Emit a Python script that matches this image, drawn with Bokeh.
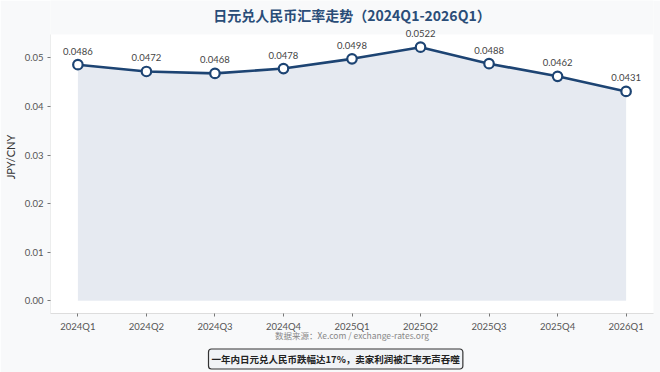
from bokeh.plotting import figure
from bokeh.models import ColumnDataSource, Label, Range1d, FixedTicker, LabelSet, Title
from bokeh.core.properties import value
from bokeh.embed import file_html
from bokeh.resources import INLINE

quarters = ["2024Q1", "2024Q2", "2024Q3", "2024Q4", "2025Q1", "2025Q2", "2025Q3", "2025Q4", "2026Q1"]
rates = [0.0486, 0.0472, 0.0468, 0.0478, 0.0498, 0.0522, 0.0488, 0.0462, 0.0431]
y_ticks = [0.00, 0.01, 0.02, 0.03, 0.04, 0.05]
title_text = "日元兑人民币汇率走势（2024Q1-2026Q1）"
source_text = "数据来源：Xe.com / exchange-rates.org"
caption_text = "一年内日元兑人民币跌幅达17%，卖家利润被汇率无声吞噬"

FONT = "Lato"
CJK = "Noto Sans CJK SC"
NAVY = "#1d4473"
OUTER = "#f8f9fa"

xs = list(range(len(quarters)))
src = ColumnDataSource(dict(x=xs, y=rates, lab=[f"{v:.4f}" for v in rates]))

n = len(quarters) - 1
ymax = max(rates)
x0, x1 = -0.05 * n, n * 1.05
y0, y1 = -0.05 * ymax, ymax * 1.05
# frame extends above the white plot area so that labels are not clipped
FRAME_H = 313
PLOT_H = 313 - 34
y_top = y0 + (y1 - y0) * FRAME_H / PLOT_H

p = figure(width=660, height=372, output_backend="svg", toolbar_location=None,
           x_range=Range1d(x0, x1), y_range=Range1d(y0, y_top),
           min_border_left=47, min_border_right=7, min_border_top=0, min_border_bottom=59)
p.background_fill_color = OUTER
p.border_fill_color = OUTER
p.outline_line_color = None
p.grid.visible = False

# white plotting area
p.quad(left=[x0], right=[x1], bottom=[y0], top=[y1], fill_color="white", line_color=None)
p.segment(x0=[x0], y0=[y0], x1=[x0], y1=[y1], line_color="#dddddd", line_width=1)

p.varea(x="x", y1=0, y2="y", source=src, fill_color="#dde3ec", fill_alpha=0.75)
p.line(x="x", y="y", source=src, line_color=NAVY, line_width=2.6)
p.scatter(x="x", y="y", source=src, size=9.5, fill_color="white", line_color=NAVY, line_width=2.2)

labels = LabelSet(x="x", y="y", text="lab", source=src, y_offset=10, text_align="center",
                  text_font=value(FONT), text_font_size="9.5px", text_color="#444444")
p.add_layout(labels)

px = (y_top - y0) / FRAME_H
p.add_layout(Label(x=(x0 + x1) / 2, y=y0 + (313 - 14) * px, text=title_text,
                   text_align="center", text_baseline="middle", text_font=CJK,
                   text_font_size="14px", text_color="#2a4d78", text_font_style="bold"))

p.xaxis.ticker = FixedTicker(ticks=xs)
p.xaxis.major_label_overrides = {i: q for i, q in enumerate(quarters)}
p.yaxis.ticker = FixedTicker(ticks=y_ticks)
p.yaxis.major_label_overrides = {t: f"{t:.2f}" for t in y_ticks}
for ax in (p.xaxis, p.yaxis):
    ax.axis_line_color = "#dddddd"
    ax.major_tick_line_color = "#777777"
    ax.major_tick_out = 3
    ax.major_tick_in = 0
    ax.minor_tick_line_color = None
    ax.major_label_text_font = FONT
    ax.major_label_text_font_size = "9.5px"
    ax.major_label_text_color = "#555555"
p.yaxis.axis_line_color = None
p.xaxis.major_label_standoff = 4
p.yaxis.major_label_standoff = 4
p.yaxis.axis_label = "JPY/CNY"
p.yaxis.axis_label_text_font = FONT
p.yaxis.axis_label_text_font_size = "11px"
p.yaxis.axis_label_text_font_style = "normal"
p.yaxis.axis_label_text_color = "#333333"
p.yaxis.axis_label_standoff = 5

p.xaxis.axis_label = source_text
p.xaxis.axis_label_text_font = CJK
p.xaxis.axis_label_text_font_size = "8.5px"
p.xaxis.axis_label_text_font_style = "normal"
p.xaxis.axis_label_text_color = "#888888"
p.xaxis.axis_label_standoff = -6

t_cap = Title(text=caption_text, align="left", text_font=CJK, text_font_size="9.5px",
              text_color="#222222", text_font_style="bold", standoff=7, offset=158,
              background_fill_color="#f1f3f6", border_line_color="#333333",
              border_line_width=1.2, border_radius=3, padding=3)
p.add_layout(t_cap, "below")

open("out.html", "w").write(file_html(p, INLINE))
